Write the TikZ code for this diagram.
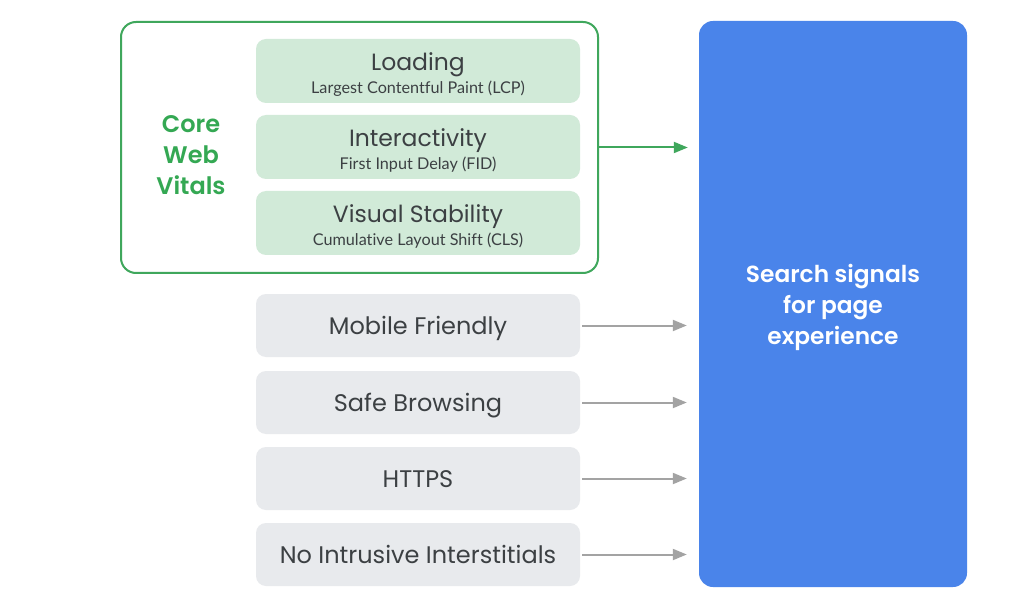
\documentclass[tikz,border=0pt]{standalone}
\usepackage{fontspec}
\setmainfont{Poppins}[BoldFont={Poppins SemiBold}]
\newfontfamily\subfont{Lato}[Ligatures={NoCommon}]
\usetikzlibrary{arrows.meta}
\definecolor{gstroke}{HTML}{3FA75C}
\definecolor{gtext}{HTML}{34A853}
\definecolor{gfill}{HTML}{D1EAD8}
\definecolor{grayfill}{HTML}{E8EAED}
\definecolor{darktext}{HTML}{3C4043}
\definecolor{arrowgray}{HTML}{A3A3A3}
\definecolor{gblue}{HTML}{4A84EA}
\tikzset{
  cwvbox/.style={rectangle, rounded corners=10pt, fill=gfill, minimum width=324pt, minimum height=64pt, inner sep=0pt},
  sigbox/.style={rectangle, rounded corners=10pt, fill=grayfill, minimum width=324pt, minimum height=63pt, inner sep=0pt},
  sigtext/.style={text=darktext, inner sep=0pt, anchor=base, font=\fontsize{24}{28}\selectfont},
  title/.style={text=darktext, inner sep=0pt, font=\fontsize{23.5}{28}\selectfont},
  sub/.style={text=darktext, inner sep=0pt, font=\subfont\fontsize{16.2}{19}\selectfont},
  grayarrow/.style={draw=arrowgray, line width=2pt, -{Triangle[length=14pt,width=11pt]}},
  greenarrow/.style={draw=gstroke, line width=2pt, -{Triangle[length=14pt,width=11pt]}}
}
\begin{document}
\begin{tikzpicture}[x=1pt,y=-1pt]
\useasboundingbox[fill=white] (0,0) rectangle (1024,609);
% outer core web vitals frame
\node[rectangle, rounded corners=15pt, draw=gstroke, line width=2pt, minimum width=477pt, minimum height=251pt, inner sep=0pt] (cwv) at (359.5,147.5) {};
\node[text=gtext, align=center, font=\bfseries\fontsize{24}{31}\selectfont] (cwvlabel) at (191,155) {Core\\Web\\Vitals};
% inner boxes
\node[cwvbox] (loading) at (418,71) {};
\node[title] (loadingt) at (418,65) {Loading};
\node[sub] (loadings) at (418,89) {Largest Contentful Paint (LCP)};
\node[cwvbox] (inter) at (418,147) {};
\node[title] (intert) at (418,141) {Interactivity};
\node[sub] (inters) at (418,165) {First Input Delay (FID)};
\node[cwvbox] (visual) at (418,223) {};
\node[title] (visualt) at (418,217) {Visual Stability};
\node[sub] (visuals) at (418,241) {Cumulative Layout Shift (CLS)};
% other signals
\node[sigbox] (mobile) at (418,325.5) {};
\node[sigtext] (mobilet) at (418,334.5) {Mobile Friendly};
\node[sigbox] (safe) at (418,402.5) {};
\node[sigtext] (safet) at (418,411) {Safe Browsing};
\node[sigbox] (https) at (418,478.5) {};
\node[sigtext] (httpst) at (418,487) {HTTPS};
\node[sigbox] (nii) at (418,554.5) {};
\node[sigtext] (niit) at (418,563) {No Intrusive Interstitials};
% blue box
\node[rectangle, rounded corners=14pt, fill=gblue, minimum width=268pt, minimum height=566pt, inner sep=0pt] (search) at (833,304) {};
\node[text=white, align=center, font=\bfseries\fontsize{23.3}{31}\selectfont] (searcht) at (833,307) {Search signals\\for page\\experience};
% arrows
\draw[greenarrow, shorten >=11pt] (cwv.east) -- (cwv.east -| search.west);
\draw[grayarrow, shorten <=2pt, shorten >=12pt] (mobile.east) -- (mobile.east -| search.west);
\draw[grayarrow, shorten <=2pt, shorten >=12pt] (safe.east) -- (safe.east -| search.west);
\draw[grayarrow, shorten <=2pt, shorten >=12pt] (https.east) -- (https.east -| search.west);
\draw[grayarrow, shorten <=2pt, shorten >=12pt] (nii.east) -- (nii.east -| search.west);
\end{tikzpicture}
\end{document}
